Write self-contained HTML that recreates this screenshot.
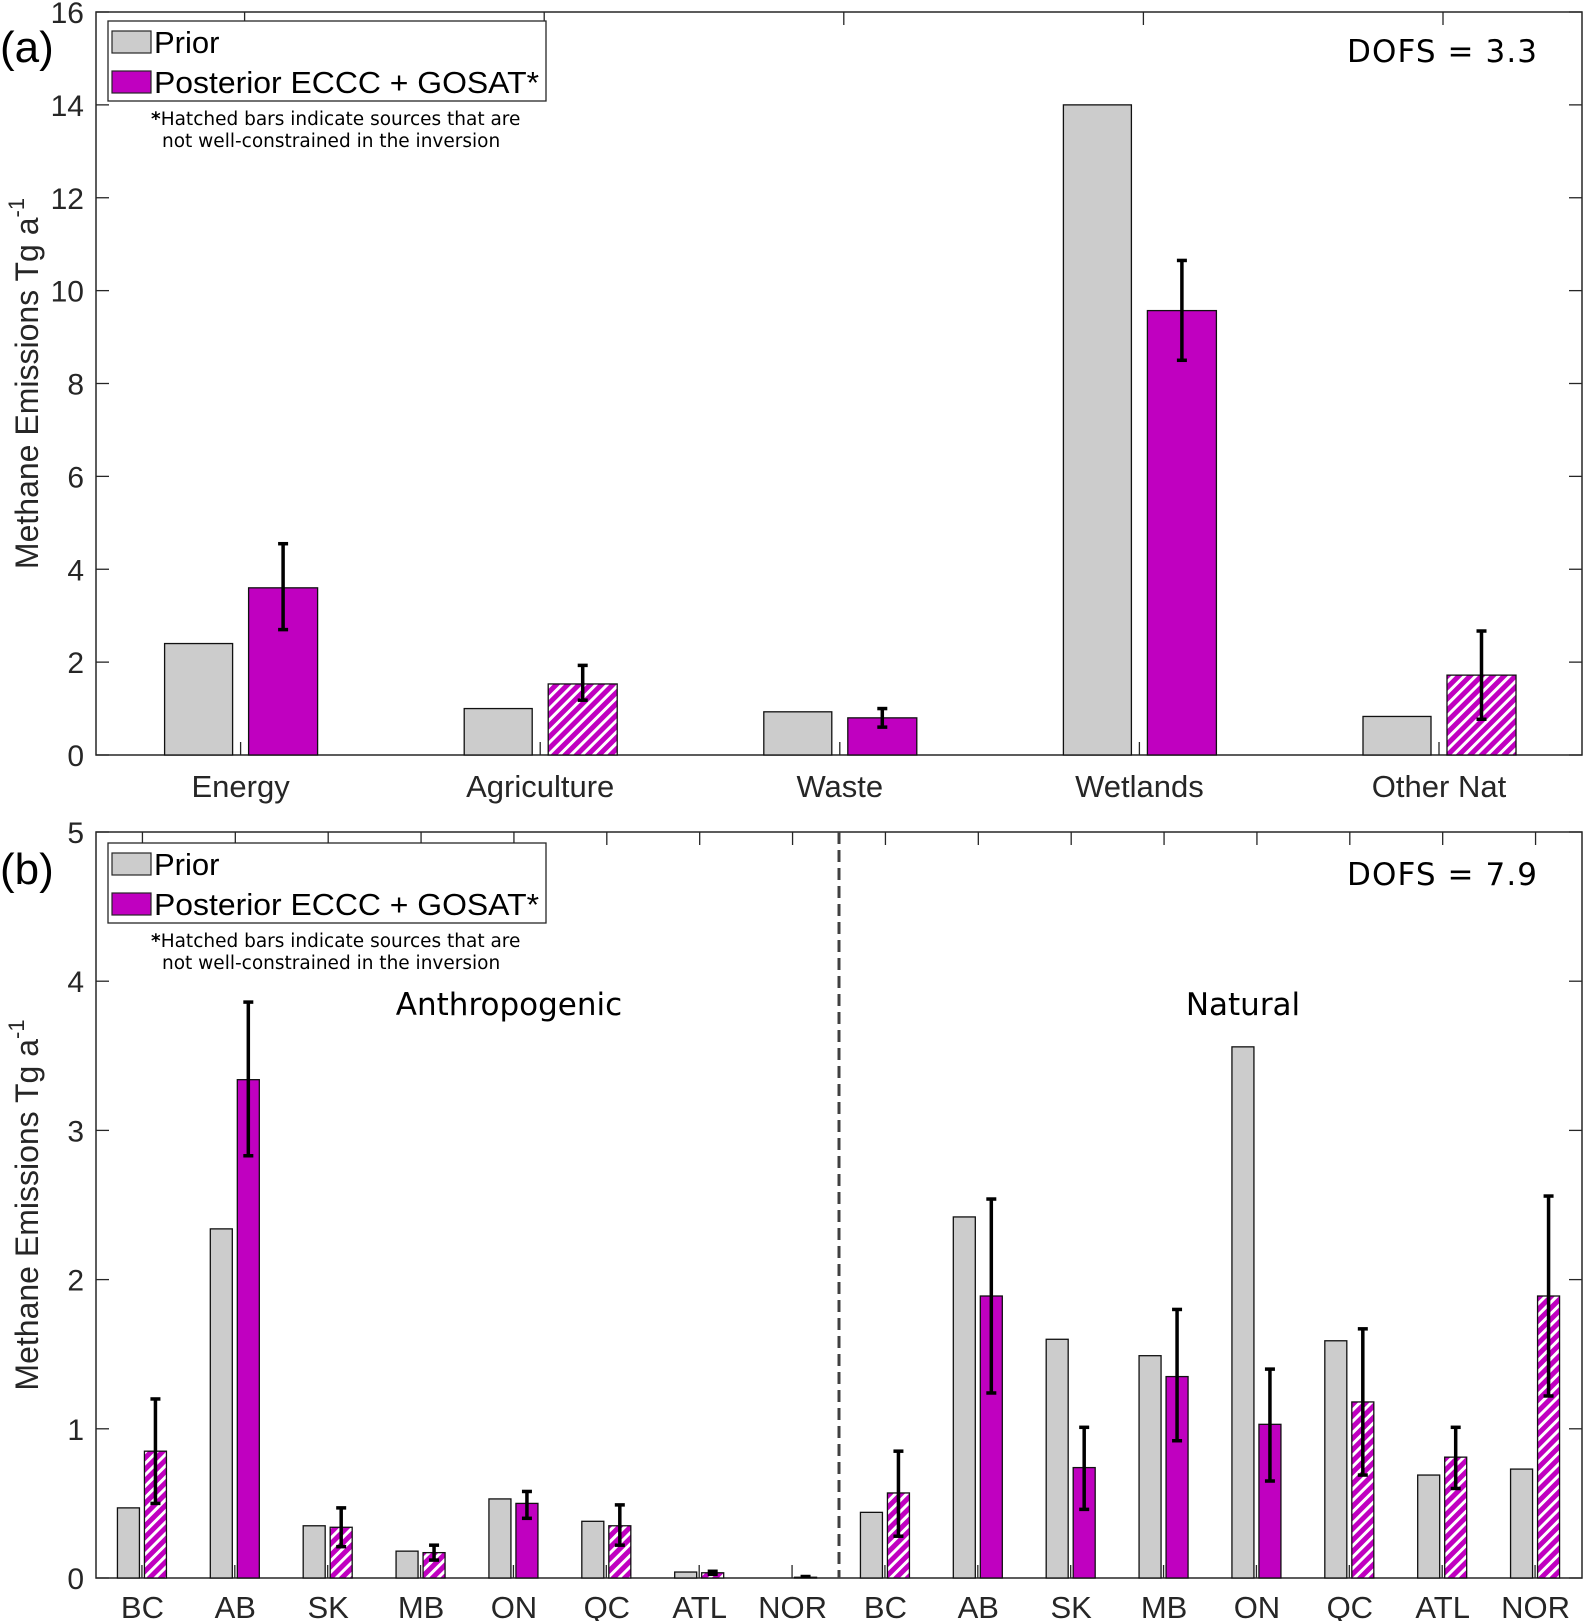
<!DOCTYPE html>
<html><head><meta charset="utf-8"><style>
html,body{margin:0;padding:0;background:#fff;}
svg{display:block;font-family:"Liberation Sans",Arial,sans-serif;}
.dv{font-family:"DejaVu Sans",Verdana,sans-serif;}
</style></head><body>
<svg id="chart" width="1584" height="1621" viewBox="0 0 1584 1621" xmlns="http://www.w3.org/2000/svg">
<defs>
<pattern id="hatch" patternUnits="userSpaceOnUse" width="8" height="8" patternTransform="rotate(45)">
<rect width="8" height="8" fill="#c000c0"/>
<rect x="0" y="0" width="3" height="8" fill="#fff"/>
</pattern>
</defs>
<g id="root"></g>
</svg>
<script>
// Panel (a) data
const catsA = ["Energy","Agriculture","Waste","Wetlands","Other Nat"];
const priorA = [2.4, 1.0, 0.93, 14.0, 0.83];
const postA = [3.6, 1.53, 0.8, 9.57, 1.72];
const errLoA = [2.7, 1.18, 0.6, 8.5, 0.77];
const errHiA = [4.55, 1.93, 1.0, 10.65, 2.67];
const hatchA = [false, true, false, false, true];
const ticksA = [0,2,4,6,8,10,12,14,16];

// Panel (b) data
const catsB = ["BC","AB","SK","MB","ON","QC","ATL","NOR","BC","AB","SK","MB","ON","QC","ATL","NOR"];
const priorB = [0.47,2.34,0.35,0.18,0.53,0.38,0.04,0.0, 0.44,2.42,1.60,1.49,3.56,1.59,0.69,0.73];
const postB = [0.85,3.34,0.34,0.17,0.50,0.35,0.035,0.005, 0.57,1.89,0.74,1.35,1.03,1.18,0.81,1.89];
const errLoB = [0.50,2.83,0.21,0.12,0.40,0.22,0.025,0.0, 0.28,1.24,0.46,0.92,0.65,0.69,0.60,1.22];
const errHiB = [1.20,3.86,0.47,0.22,0.58,0.49,0.045,0.01, 0.85,2.54,1.01,1.80,1.40,1.67,1.01,2.56];
const hatchB = [true,false,true,true,false,true,true,true, true,false,false,false,false,true,true,true];
const ticksB = [0,1,2,3,4,5];

const NS = "http://www.w3.org/2000/svg";
const root = document.getElementById("root");
function el(tag, attrs, parent, text){
  const e = document.createElementNS(NS, tag);
  for (const k in attrs) e.setAttribute(k, attrs[k]);
  if (text !== undefined) e.textContent = text;
  (parent || root).appendChild(e);
  return e;
}

function panel(cfg){
  const g = el("g", {});
  
  
  const L=cfg.L, R=cfg.R, T=cfg.T, B=cfg.B;
  const yS = v => B - (v - 0) / (cfg.ymax) * (B - T);
  const n = cfg.cats.length, gw = (R-L)/n;
  const xC = i => L + (i+0.5)*gw + i*cfg.adj;
  const fr = el("rect", {x:L,y:T,width:R-L,height:B-T,fill:"none",stroke:"#262626","stroke-width":1.5}, g);
  
  
  cfg.ticks.forEach(t=>{
    const y = yS(t);
    el("line",{x1:L,x2:L+13,y1:y,y2:y,stroke:"#262626","stroke-width":1.3},g);
    el("line",{x1:R-13,x2:R,y1:y,y2:y,stroke:"#262626","stroke-width":1.3},g);
    const tx = el("text",{x:L-12,y:y+11,"text-anchor":"end","font-size":30,fill:"#262626"},g,String(t));
    
    
  });
  cfg.cats.forEach((c,i)=>{
    const cx = xC(i);
    el("line",{x1:cx,x2:cx,y1:T,y2:T+13,stroke:"#262626","stroke-width":1.3},g);
    el("line",{x1:cx+cfg.stub,x2:cx+cfg.stub,y1:B-13,y2:B,stroke:"#262626","stroke-width":1.3},g);
    const py = yS(cfg.prior[i]);
    const pb = el("rect",{x:cx+cfg.p0,y:py,width:cfg.p1-cfg.p0,height:B-py,fill:"#cccccc",stroke:"#111","stroke-width":1.3},g);
    
    
    const qy = yS(cfg.post[i]);
    const qb = el("rect",{x:cx+cfg.q0,y:qy,width:cfg.q1-cfg.q0,height:B-qy,fill:cfg.hatch[i]?"url(#hatch)":"#c000c0",stroke:"#111","stroke-width":1.3},g);
    
    
    const ex = cx + (cfg.q0+cfg.q1)/2;
    const eg = el("g",{stroke:"#000","stroke-width":3.5},g);
    
    
    const ylo = yS(cfg.lo[i]), yhi = yS(cfg.hi[i]);
    if (Math.abs(ylo-yhi) > 1.5){
      el("line",{x1:ex,x2:ex,y1:yhi,y2:ylo},eg);
      el("line",{x1:ex-5,x2:ex+5,y1:yhi,y2:yhi},eg);
      el("line",{x1:ex-5,x2:ex+5,y1:ylo,y2:ylo},eg);
    } else {
      el("line",{x1:ex-5,x2:ex+5,y1:yhi,y2:yhi},eg);
    }
    const lt = el("text",{x:cx+cfg.labDx,y:cfg.labY,"text-anchor":"middle","font-size":31,fill:"#262626"},g,c);
    
    
  });
  const yt = el("text",{transform:`translate(${cfg.ytX},${(T+B)/2}) rotate(-90)`,"text-anchor":"middle","font-size":32,fill:"#262626"},g);
  
  
  el("tspan",{},yt,"Methane Emissions Tg a");
  el("tspan",{dy:-14,"font-size":22},yt,"-1");
  const pl = el("text",{x:0,y:cfg.plY,"font-size":44,fill:"#000"},g,cfg.panelLabel);
  
  
  const lg = el("g",{},g);
  
  
  const ly = cfg.legY;
  el("rect",{x:108,y:ly,width:438,height:80,fill:"#fff",stroke:"#262626","stroke-width":1.3},lg);
  const le1 = el("g",{},lg);
  
  
  el("rect",{x:112,y:ly+10,width:39,height:22,fill:"#cccccc",stroke:"#262626","stroke-width":1.2},le1);
  el("text",{x:154,y:ly+32,"font-size":31,fill:"#000"},le1,"Prior");
  const le2 = el("g",{},lg);
  
  
  el("rect",{x:112,y:ly+50,width:39,height:22,fill:"#c000c0",stroke:"#262626","stroke-width":1.2},le2);
  el("text",{x:154,y:ly+72,"font-size":31,fill:"#000",textLength:385,lengthAdjust:"spacingAndGlyphs"},le2,"Posterior ECCC + GOSAT*");
  const fn = el("text",{x:151,y:ly+104,"font-size":18.5,fill:"#000",class:"dv"},g);
  
  
  el("tspan",{"font-weight":"bold"},fn,"*");
  el("tspan",{},fn,"Hatched bars indicate sources that are");
  const fn2 = el("text",{x:162,y:ly+126,"font-size":18.5,fill:"#000",class:"dv"},g,"not well-constrained in the inversion");
  
  
  const d = el("text",{x:1537,y:cfg.dofsY,"text-anchor":"end","font-size":31,fill:"#000",class:"dv",textLength:190,lengthAdjust:"spacing"},g,cfg.dofs);
  
  
  return {g, xC, gw, yS};
}

panel({name:"panel-a", L:96,R:1582,T:12,B:755, ymax:16, ticks:ticksA,
  cats:catsA, prior:priorA, post:postA, lo:errLoA, hi:errHiA, hatch:hatchA,
  p0:-80, p1:-12, q0:4, q1:73, stub:-4, labDx:-4, labY:797, ytX:38, plY:62, panelLabel:"(a)",
  legY:21, dofs:"DOFS = 3.3", dofsY:62, adj:2.4});

const pb = panel({name:"panel-b", L:96,R:1582,T:832,B:1578, ymax:5, ticks:ticksB,
  cats:catsB, prior:priorB, post:postB, lo:errLoB, hi:errHiB, hatch:hatchB,
  p0:-25, p1:-3, q0:2, q1:24, stub:-0.5, labDx:0, labY:1618, ytX:38, plY:884, panelLabel:"(b)",
  legY:843, dofs:"DOFS = 7.9", dofsY:885, adj:0});

const dl = el("line",{x1:pb.xC(7)+pb.gw/2,x2:pb.xC(7)+pb.gw/2,y1:832,y2:1578,stroke:"#404040","stroke-width":3,"stroke-dasharray":"12,6"});


const an = el("text",{x:509,y:1015,"text-anchor":"middle","font-size":31,fill:"#000",class:"dv"},root,"Anthropogenic");


const na = el("text",{x:1243,y:1015,"text-anchor":"middle","font-size":31,fill:"#000",class:"dv"},root,"Natural");


</script>
</body></html>
